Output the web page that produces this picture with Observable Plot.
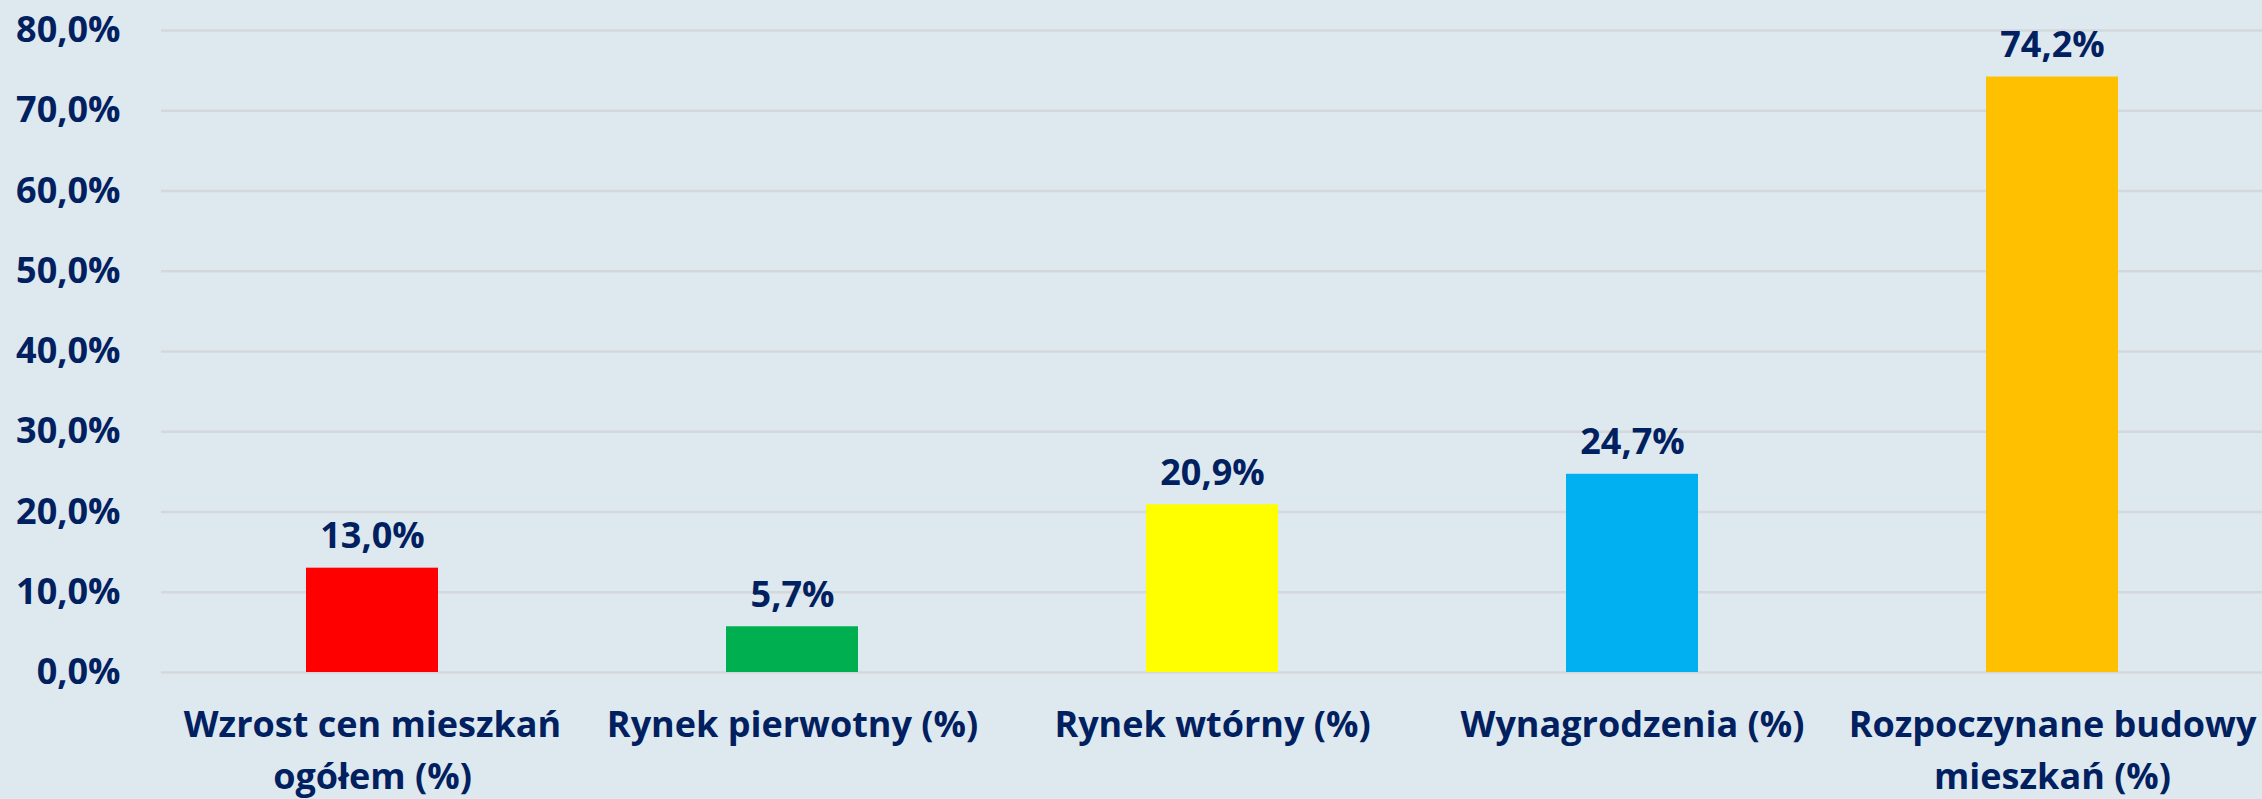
<!DOCTYPE html>
<html>
<head>
<meta charset="utf-8">
<script src="https://cdn.jsdelivr.net/npm/d3@7"></script>
<script src="https://cdn.jsdelivr.net/npm/@observablehq/plot@0.6"></script>
<style>
  html, body { margin: 0; padding: 0; background: #dee8ef; }
  #chart svg { display: block; }
</style>
</head>
<body>
<div id="chart"></div>
<script>
const categories = [
  "Wzrost cen mieszkań\nogółem (%)",
  "Rynek pierwotny (%)",
  "Rynek wtórny (%)",
  "Wynagrodzenia (%)",
  "Rozpoczynane budowy\nmieszkań (%)"
];
const values = [13.0, 5.7, 20.9, 24.7, 74.2];
const colors = ["#ff0000", "#00b050", "#ffff00", "#00b0f0", "#ffc000"];
const yTicks = [0, 10, 20, 30, 40, 50, 60, 70, 80];

const data = categories.map((c, i) => ({ category: c, value: values[i], color: colors[i] }));
const fmt = v => v.toFixed(1).replace(".", ",") + "%";

const FONT = 36;
const chart = Plot.plot({
  width: 2262,
  height: 799,
  marginTop: 30,
  marginBottom: 127,
  marginLeft: 161,
  marginRight: 0,
  style: {
    background: "#dee8ef",
    fontFamily: "'Open Sans'",
    fontWeight: "700",
    fontSize: FONT + "px",
    color: "#002060"
  },
  x: { domain: categories, paddingInner: 0.686, paddingOuter: 0.343, label: null },
  y: { domain: [0, 80], label: null },
  marks: [
    Plot.gridY(yTicks, { stroke: "#d5d8db", strokeOpacity: 1, strokeWidth: 2.5 }),
    Plot.barY(data, { x: "category", y: "value", fill: "color" }),
    Plot.text(data, {
      x: "category", y: "value", text: d => fmt(d.value),
      lineAnchor: "bottom", dy: -20, fill: "#002060",
      fontSize: FONT, fontWeight: 700
    }),
    Plot.axisY(yTicks, {
      tickSize: 0, tickPadding: 41, tickFormat: fmt, fill: "#002060",
      fontSize: FONT, fontWeight: 700, label: null
    }),
    Plot.axisX({
      tickSize: 0, tickPadding: 27, fill: "#002060",
      fontSize: FONT, fontWeight: 700, lineHeight: 1.45, label: null,
      textOverflow: null
    })
  ]
});
document.getElementById("chart").appendChild(chart);
</script>
</body>
</html>
